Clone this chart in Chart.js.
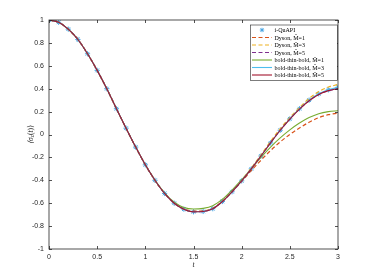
<!DOCTYPE html>
<html>
<head>
<meta charset="utf-8">
<script src="https://cdn.jsdelivr.net/npm/chart.js@4.4.0/dist/chart.umd.min.js"></script>
<style>
html, body { margin: 0; padding: 0; background: #fff; }
</style>
</head>
<body>
<canvas id="c" width="374" height="280"></canvas>
<script>
// time grid (t) and <sigma_z(t)> values
const tVals = [0, 0.1, 0.2, 0.3, 0.4, 0.5, 0.6, 0.7, 0.8, 0.9, 1.0, 1.1, 1.2, 1.3, 1.4, 1.5,
  1.6, 1.7, 1.8, 1.9, 2.0, 2.1, 2.2, 2.3, 2.4, 2.5, 2.6, 2.7, 2.8, 2.9, 3.0];

const iQuAPI = [1.000, 0.980, 0.920, 0.830, 0.705, 0.560, 0.400, 0.225, 0.055, -0.110, -0.265,
  -0.400, -0.515, -0.600, -0.652, -0.675, -0.672, -0.648, -0.585, -0.500, -0.405,
  -0.300, -0.188, -0.073, 0.037, 0.137, 0.225, 0.300, 0.355, 0.390, 0.412];

const dysonM1 = [1.000, 0.980, 0.920, 0.830, 0.705, 0.560, 0.400, 0.225, 0.055, -0.110, -0.265,
  -0.400, -0.515, -0.600, -0.650, -0.670, -0.668, -0.645, -0.585, -0.500, -0.410,
  -0.315, -0.225, -0.140, -0.065, 0.000, 0.057, 0.107, 0.147, 0.173, 0.187];

const dysonM3 = [1.000, 0.980, 0.920, 0.830, 0.705, 0.560, 0.400, 0.225, 0.055, -0.110, -0.265,
  -0.400, -0.515, -0.600, -0.652, -0.673, -0.670, -0.645, -0.582, -0.497, -0.400,
  -0.292, -0.178, -0.060, 0.050, 0.148, 0.235, 0.315, 0.375, 0.415, 0.437];

const dysonM5 = [1.000, 0.980, 0.920, 0.830, 0.705, 0.560, 0.400, 0.225, 0.055, -0.110, -0.265,
  -0.400, -0.515, -0.600, -0.652, -0.675, -0.672, -0.648, -0.585, -0.500, -0.405,
  -0.300, -0.188, -0.073, 0.037, 0.135, 0.222, 0.295, 0.350, 0.383, 0.400];

const boldM1 = [1.000, 0.980, 0.920, 0.830, 0.705, 0.560, 0.400, 0.225, 0.055, -0.110, -0.265,
  -0.398, -0.510, -0.592, -0.637, -0.650, -0.645, -0.622, -0.565, -0.485, -0.395,
  -0.298, -0.200, -0.110, -0.030, 0.040, 0.100, 0.148, 0.182, 0.200, 0.208];

const boldM3 = [1.000, 0.980, 0.920, 0.830, 0.705, 0.560, 0.400, 0.225, 0.055, -0.110, -0.265,
  -0.400, -0.515, -0.600, -0.652, -0.675, -0.672, -0.648, -0.585, -0.500, -0.405,
  -0.300, -0.188, -0.073, 0.037, 0.137, 0.225, 0.300, 0.355, 0.390, 0.412];

const boldM5 = [1.000, 0.980, 0.920, 0.830, 0.705, 0.560, 0.400, 0.225, 0.055, -0.110, -0.265,
  -0.400, -0.515, -0.600, -0.652, -0.675, -0.672, -0.648, -0.585, -0.500, -0.405,
  -0.300, -0.188, -0.073, 0.037, 0.135, 0.222, 0.295, 0.350, 0.383, 0.400];

const seriesLabels = ['i-QuAPI', 'Dyson, M\u0303=1', 'Dyson, M\u0303=3', 'Dyson, M\u0303=5',
  'bold-thin-bold, M\u0303=1', 'bold-thin-bold, M\u0303=3', 'bold-thin-bold, M\u0303=5'];

const xTicks = [0, 0.5, 1, 1.5, 2, 2.5, 3];
const yTicks = [-1, -0.8, -0.6, -0.4, -0.2, 0, 0.2, 0.4, 0.6, 0.8, 1];

const axisColor = '#262626';

function pts(arr) {
  return arr.map((v, i) => ({ x: tVals[i], y: v }));
}

function fmt(v) {
  return String(Math.round(v * 10) / 10);
}

function lineSet(label, arr, color, dashed, order) {
  return {
    label: label,
    data: pts(arr),
    borderColor: color,
    backgroundColor: color,
    borderWidth: dashed ? 1.2 : 1.1,
    borderDash: dashed ? [4, 2.5] : [],
    pointRadius: 0,
    cubicInterpolationMode: 'monotone',
    fill: false,
    order: order,
  };
}

const datasets = [
  {
    label: seriesLabels[0],
    data: pts(iQuAPI),
    showLine: false,
    pointStyle: 'star',
    pointRadius: 2.6,
    borderWidth: 1,
    borderColor: '#4ba6e3',
    backgroundColor: '#4ba6e3',
    order: 10,
  },
  lineSet(seriesLabels[1], dysonM1, '#D95319', true, 6),
  lineSet(seriesLabels[2], dysonM3, '#EDB120', true, 5),
  lineSet(seriesLabels[3], dysonM5, '#7E2F8E', true, 4),
  lineSet(seriesLabels[4], boldM1, '#77AC30', false, 3),
  lineSet(seriesLabels[5], boldM3, '#4DBEEE', false, 2),
  lineSet(seriesLabels[6], boldM5, '#A2142F', false, 1),
];

// box round the axes with inward tick marks, MATLAB style
const boxPlugin = {
  id: 'box',
  afterDraw(chart) {
    const { ctx, chartArea: a, scales } = chart;
    ctx.save();
    ctx.strokeStyle = axisColor;
    ctx.lineWidth = 0.8;
    ctx.strokeRect(a.left, a.top, a.right - a.left, a.bottom - a.top);
    ctx.beginPath();
    xTicks.forEach((v) => {
      const x = Math.round(scales.x.getPixelForValue(v)) + 0.5;
      ctx.moveTo(x, a.bottom); ctx.lineTo(x, a.bottom - 3);
      ctx.moveTo(x, a.top); ctx.lineTo(x, a.top + 3);
    });
    yTicks.forEach((v) => {
      const y = Math.round(scales.y.getPixelForValue(v)) + 0.5;
      ctx.moveTo(a.left, y); ctx.lineTo(a.left + 3, y);
      ctx.moveTo(a.right, y); ctx.lineTo(a.right - 3, y);
    });
    ctx.stroke();

    // x label
    ctx.fillStyle = axisColor;
    ctx.font = 'italic 7.5px "Liberation Serif"';
    ctx.textAlign = 'center';
    ctx.textBaseline = 'middle';
    ctx.fillText('t', (a.left + a.right) / 2, 265);

    // y label: <sigma_z(t)>
    ctx.translate(31, (a.top + a.bottom) / 2);
    ctx.rotate(-Math.PI / 2);
    const big = '7.5px "Liberation Serif"';
    const small = '5.5px "Liberation Serif"';
    const it = 'italic 7.5px "Liberation Serif"';
    const parts = [
      { s: '\u27E8\u03C3', f: it, dy: 0 },
      { s: 'z', f: small, dy: 1.8 },
      { s: '(', f: big, dy: 0 },
      { s: 't', f: it, dy: 0 },
      { s: ')\u27E9', f: big, dy: 0 },
    ];
    let w = 0;
    parts.forEach((p) => { ctx.font = p.f; p.w = ctx.measureText(p.s).width; w += p.w; });
    let x = -w / 2;
    ctx.textAlign = 'left';
    parts.forEach((p) => { ctx.font = p.f; ctx.fillText(p.s, x, p.dy); x += p.w; });
    ctx.restore();
  },
};

// legend box in the upper right corner
const legendPlugin = {
  id: 'boxLegend',
  afterDraw(chart) {
    const { ctx } = chart;
    const left = 250, top = 24.5, width = 87, rowH = 7.5;
    const height = rowH * datasets.length + 3;
    ctx.save();
    ctx.fillStyle = '#fff';
    ctx.fillRect(left, top, width, height);
    ctx.strokeStyle = axisColor;
    ctx.lineWidth = 0.6;
    ctx.strokeRect(left + 0.5, top + 0.5, width, height);
    ctx.font = '6px "Liberation Serif"';
    ctx.textBaseline = 'middle';
    ctx.textAlign = 'left';
    datasets.forEach((ds, i) => {
      const y = top + 5.5 + i * rowH;
      if (ds.showLine === false) {
        ctx.strokeStyle = ds.borderColor;
        ctx.lineWidth = 1;
        const cx = 262, r = 2.2;
        ctx.beginPath();
        for (let k = 0; k < 4; k++) {
          const ang = k * Math.PI / 4;
          ctx.moveTo(cx - r * Math.cos(ang), y - r * Math.sin(ang));
          ctx.lineTo(cx + r * Math.cos(ang), y + r * Math.sin(ang));
        }
        ctx.stroke();
      } else {
        ctx.strokeStyle = ds.borderColor;
        ctx.lineWidth = ds.borderWidth;
        ctx.setLineDash(ds.borderDash);
        ctx.beginPath();
        ctx.moveTo(252, y);
        ctx.lineTo(272, y);
        ctx.stroke();
        ctx.setLineDash([]);
      }
      ctx.fillStyle = '#000';
      ctx.fillText(ds.label, 274.5, y + 0.5);
    });
    ctx.restore();
  },
};

new Chart(document.getElementById('c'), {
  type: 'line',
  data: { datasets: datasets },
  options: {
    responsive: false,
    animation: false,
    layout: { padding: { left: 0, top: 20, right: 36, bottom: 0 } },
    plugins: { legend: { display: false }, tooltip: { enabled: false } },
    scales: {
      x: {
        type: 'linear',
        min: 0,
        max: 3,
        afterFit: (s) => { s.height = 31; },
        grid: { display: false, drawTicks: false },
        border: { display: false },
        ticks: {
          stepSize: 0.5,
          padding: 4,
          maxRotation: 0,
          color: axisColor,
          font: { family: 'Liberation Sans', size: 7 },
          callback: fmt,
        },
      },
      y: {
        type: 'linear',
        min: -1,
        max: 1,
        afterFit: (s) => { s.width = 49; },
        grid: { display: false, drawTicks: false },
        border: { display: false },
        ticks: {
          stepSize: 0.2,
          padding: 5,
          color: axisColor,
          font: { family: 'Liberation Sans', size: 7 },
          callback: fmt,
        },
      },
    },
  },
  plugins: [boxPlugin, legendPlugin],
});
</script>
</body>
</html>
